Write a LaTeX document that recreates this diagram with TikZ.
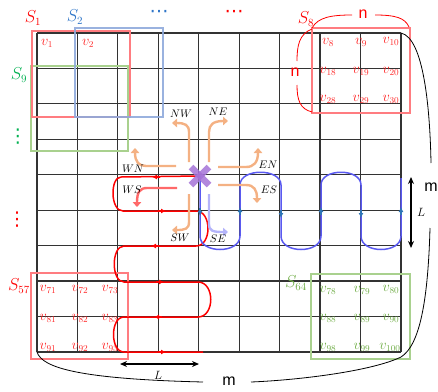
\documentclass[tikz,border=0pt]{standalone}
\usepackage{fontspec}
\newfontfamily\nmfont{Liberation Sans}
\newfontfamily\dotfont{DejaVu Sans}
\usetikzlibrary{arrows.meta,calc}
\definecolor{redbox}{RGB}{255,124,128}
\definecolor{bluebox}{RGB}{143,170,220}
\definecolor{greenbox}{RGB}{169,209,142}
\definecolor{myorange}{RGB}{244,177,131}
\definecolor{salmon}{RGB}{255,105,105}
\definecolor{lavender}{RGB}{180,180,250}
\definecolor{xpurple}{RGB}{165,115,215}
\definecolor{redline}{RGB}{255,0,0}
\definecolor{blueline}{RGB}{90,90,240}
\definecolor{bluetip}{RGB}{46,117,182}
\definecolor{slblue}{RGB}{46,117,200}
\definecolor{slgreen}{RGB}{0,176,80}
\definecolor{olgreen}{RGB}{112,173,71}
\definecolor{vred}{RGB}{255,40,40}
\begin{document}
\begin{tikzpicture}[x=1pt,y=-1pt,
  gridline/.style={line width=1.2pt, draw=black!80},
  sbox/.style={line width=2.6pt},
  vlab/.style={font=\fontsize{13.5}{15}\selectfont, inner sep=0pt},
  slab/.style={font=\fontsize{16}{18}\selectfont, inner sep=0pt},
  dotlab/.style={font=\dotfont\fontsize{19}{20}\selectfont, inner sep=0pt},
  dlab/.style={font=\fontsize{11}{12}\selectfont, inner sep=0pt},
  oarr/.style={line width=2.4pt, -{Triangle[width=8.5pt,length=5pt]}},
  redp/.style={draw=redline, line width=1.5pt},
  bluep/.style={draw=blueline, line width=1.5pt},
  rtip/.style={draw=redline, line width=1.5pt, -{Latex[length=5pt,width=5pt]}},
  btip/.style={draw=bluetip, line width=1.2pt, -{Latex[length=5pt,width=5pt]}},
  bracel/.style={line width=0.8pt},
  nmlab/.style={font=\nmfont\fontsize{16}{18}\selectfont, inner sep=0pt},
  llab/.style={font=\fontsize{13}{15}\selectfont, inner sep=0pt},
]
\useasboundingbox (0,0) rectangle (438,391);
% grid vertices
\foreach \i in {0,...,9} {
  \foreach \j in {0,...,9} {
    \coordinate (g-\i-\j) at ({37+40.44*\i},{33+35.44*\j});
  }
}
\foreach \i in {0,...,9} {
  \draw[gridline] (g-\i-0) -- (g-\i-9);
  \draw[gridline] (g-0-\i) -- (g-9-\i);
}
% subgrid boxes
\draw[sbox, draw=greenbox] (31,66) rectangle (128,151);
\draw[sbox, draw=redbox] (32,31) rectangle (130,117);
\draw[sbox, draw=bluebox, opacity=0.9] (75,28) rectangle (163,117);
\draw[sbox, draw=redbox] (312,28) rectangle (410,113);
\draw[sbox, draw=redbox] (31,273) rectangle (128,359);
\draw[sbox, draw=greenbox] (311,274) rectangle (410,359);
% S labels
\node[slab, text=redline] (s1) at (33,18) {$S_1$};
\node[slab, text=slblue] (s2) at (75,17) {$S_2$};
\node[dotlab, text=slblue] (bdots) at (159,14) {⋯};
\node[dotlab, text=redline] (rdots) at (234,14) {⋯};
\node[slab, text=redline] (s8) at (306,19) {$S_8$};
\node[slab, text=slgreen] (s9) at (19,75) {$S_9$};
\node[dotlab, text=slgreen] (gvdots) at (18,137) {⋮};
\node[dotlab, text=redline] (rvdots) at (17,220) {⋮};
\node[slab, text=redline] (s57) at (19,286) {$S_{57}$};
\node[slab, text=olgreen] (s64) at (296,283) {$S_{64}$};
% v labels
\foreach \x/\y/\t in {47/43/1, 88/43/2, 328/42/8, 361/42/9, 391/41/10,
  328/71/18, 361/71/19, 391/71/20, 328/99/28, 361/99/29, 391/99/30,
  48/289/71, 80/289/72, 110/289/73, 48/318/81, 80/318/82, 110/318/83,
  48/347/91, 80/347/92, 110/347/93}
  \node[vlab, text=vred] (v\t) at (\x,\y) {$v_{\t}$};
\foreach \x/\y/\t in {328/290/78, 362/290/79, 391/289/80, 328/318/88,
  362/318/89, 391/318/90, 328/347/98, 362/347/99, 390/347/100}
  \node[vlab, text=olgreen] (v\t) at (\x,\y) {$v_{\t}$};
% n braces
\node[nmlab, text=redline] (ntop) at (363,14) {n};
\node[nmlab, text=redline] (nleft) at (295,72) {n};
\draw[bracel, draw=redline] (312,28) .. controls (318,17) and (332,15) .. (352,15);
\draw[bracel, draw=redline] (375,15) .. controls (396,15) and (405,18) .. (409,27);
\draw[bracel, draw=redline] (312,29) .. controls (299,34) and (297,46) .. (297,61);
\draw[bracel, draw=redline] (297,85) .. controls (297,100) and (300,109) .. (312,112);
% m braces
\node[nmlab] (mright) at (431,187) {m};
\node[nmlab] (mbottom) at (229,381) {m};
\draw[bracel] (g-9-0) .. controls (424,38) and (430,110) .. (431,163);
\draw[bracel] (430,228) .. controls (428,300) and (420,345) .. (401,357)
  .. controls (372,371) and (300,380) .. (251,382);
\draw[bracel] (g-0-9) .. controls (42,368) and (80,379) .. (203,382);
% L arrows
\coordinate (la1) at (411,177);
\coordinate (la2) at (411,248);
\draw[line width=1.4pt, {Stealth[length=7pt,width=6pt]}-{Stealth[length=7pt,width=6pt]}] (la1) -- (la2);
\node[llab] (lv) at (421,212) {$L$};
\coordinate (lb1) at (120,364);
\coordinate (lb2) at (199,364);
\draw[line width=1.4pt, {Stealth[length=7pt,width=6pt]}-{Stealth[length=7pt,width=6pt]}] (lb1) -- (lb2);
\node[llab] (lh) at (158,375) {$L$};
% red snake path
\draw[redp] (200,176) -- (121,177) .. controls (110,177) and (110,211) .. (123,211)
  -- (196,211) .. controls (212,211) and (212,246) .. (196,246)
  -- (124,246) .. controls (111,246) and (111,282) .. (124,282)
  -- (198,282) .. controls (215,282) and (215,317) .. (198,317)
  -- (124,317) .. controls (110,317) and (110,352) .. (124,352)
  -- (203,352);
\draw[rtip] (160,177) -- (152,177);
\draw[rtip] (158,211) -- (166,211);
\draw[rtip] (159,246) -- (151,246);
\draw[rtip] (156,282) -- (164,282);
\draw[rtip] (162,317) -- (154,317);
\draw[rtip] (158,352) -- (166,352);
% blue snake path
\draw[bluep] (200,176) -- (200,236) .. controls (200,254) and (240,254) .. (240,236)
  -- (240,185) .. controls (240,168) and (281,168) .. (281,185)
  -- (281,236) .. controls (281,254) and (321,254) .. (321,236)
  -- (321,185) .. controls (321,168) and (361,168) .. (361,185)
  -- (361,236) .. controls (361,254) and (401,254) .. (401,236)
  -- (401,178);
\draw[btip] (200,208) -- (200,216);
\draw[btip] (240,215) -- (240,207);
\draw[btip] (281,210) -- (281,218);
\draw[btip] (321,215) -- (321,207);
\draw[btip] (361,210) -- (361,218);
\draw[btip] (401,215) -- (401,207);
% orange direction arrows
\draw[oarr, draw=myorange] (189,162) -- (189,132) .. controls (189,125) and (185,123) .. (172,123);
\draw[oarr, draw=myorange] (209,162) -- (209,132) .. controls (209,125) and (213,121) .. (228,121);
\draw[oarr, draw=myorange] (176,166) -- (146,166) .. controls (139,166) and (135,162) .. (135,148);
\draw[oarr, draw=salmon] (177,188) -- (147,188) .. controls (140,188) and (137,192) .. (137,207);
\draw[oarr, draw=myorange] (189,194) -- (189,222) .. controls (189,229) and (185,230) .. (172,230);
\draw[oarr, draw=lavender] (209,194) -- (209,224) .. controls (209,231) and (213,232) .. (228,232);
\draw[oarr, draw=myorange] (218,167) -- (246,167) .. controls (254,167) and (258,162) .. (258,148);
\draw[oarr, draw=myorange] (218,185) -- (246,185) .. controls (254,185) and (257,190) .. (257,203);
\node[dlab] (lnw) at (181,114) {$NW$};
\node[dlab] (lne) at (218,112) {$NE$};
\node[dlab] (lwn) at (133,169) {$WN$};
\node[dlab] (lws) at (132,190) {$WS$};
\node[dlab] (lsw) at (180,238) {$SW$};
\node[dlab] (lse) at (218,239) {$SE$};
\node[dlab] (len) at (268,165) {$EN$};
\node[dlab] (les) at (269,190) {$ES$};
% purple cross
\coordinate (xc) at (200,176);
\draw[line width=6.5pt, draw=xpurple, opacity=0.85] ($(xc)+(-9,-9)$) -- ($(xc)+(9,9)$);
\draw[line width=6.5pt, draw=xpurple, opacity=0.85] ($(xc)+(-9,9)$) -- ($(xc)+(9,-9)$);
\end{tikzpicture}
\end{document}
